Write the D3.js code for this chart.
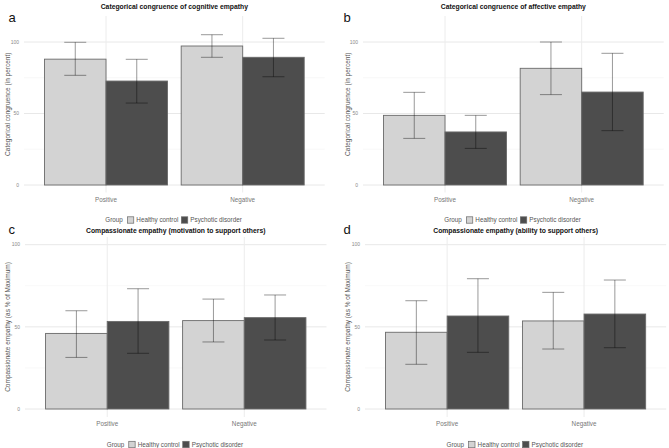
<!DOCTYPE html>
<html>
<head>
<meta charset="utf-8">
<script src="https://cdn.jsdelivr.net/npm/d3@7"></script>
<style>
  body { margin: 0; background: #fff; }
  svg { display: block; font-family: "Liberation Sans", Arial, sans-serif; }
</style>
</head>
<body>
<svg id="chart" width="669" height="448"></svg>
<script>
// data (means and error bar ends, in percent)
var categories = ["Positive", "Negative"];
var groups = ["Healthy control", "Psychotic disorder"];
var panelLetters = ["a", "b", "c", "d"];
var panelTitles = [
  "Categorical congruence of cognitive empathy",
  "Categorical congruence of affective empathy",
  "Compassionate empathy (motivation to support others)",
  "Compassionate empathy (ability to support others)"
];
var yTitles = [
  "Categorical congruence (in percent)",
  "Categorical congruence (in percent)",
  "Compassionate empathy (as % of Maximum)",
  "Compassionate empathy (as % of Maximum)"
];
var yTicks = [0, 50, 100];
var yMinor = [25, 75];

var healthyMean = [[88.0, 97.2], [48.7, 81.6], [46.0, 53.8], [46.7, 53.6]];
var healthyLow  = [[76.7, 89.3], [32.6, 63.2], [31.4, 40.8], [27.2, 36.5]];
var healthyHigh = [[99.8, 105.1], [64.8, 100.0], [59.8, 66.9], [65.9, 71.0]];
var psychMean   = [[72.7, 89.3], [37.1, 65.0], [53.3, 55.6], [56.6, 57.8]];
var psychLow    = [[57.3, 75.7], [25.6, 38.0], [33.9, 42.0], [34.5, 37.3]];
var psychHigh   = [[87.9, 102.6], [48.7, 92.1], [73.2, 69.4], [79.3, 78.5]];

var fills = {"Healthy control": "#d3d3d3", "Psychotic disorder": "#4d4d4d"};

// panel placement
var panels = [
  {left: 24,  right: 324.7, y0: 185, y100: 42,    top: 16,  bottom: 192.5, ox: 0,   oy: 0},
  {left: 363, right: 663.7, y0: 185, y100: 42,    top: 16,  bottom: 192.5, ox: 335, oy: 0},
  {left: 25,  right: 326.5, y0: 409, y100: 244.7, top: 237, bottom: 417,   ox: 0,   oy: 224},
  {left: 365, right: 666.2, y0: 409, y100: 244.7, top: 237, bottom: 417,   ox: 335, oy: 224}
];

var svg = d3.select("#chart");

panels.forEach(function(p, i) {

  var g = svg.append("g");

  var x = d3.scaleBand()
    .domain(categories)
    .range([p.left, p.right])
    .paddingInner(0.1)
    .paddingOuter(0.15);

  var xg = d3.scaleBand()
    .domain(groups)
    .range([0, x.bandwidth()]);

  var y = d3.scaleLinear()
    .domain([0, 100])
    .range([p.y0, p.y100]);

  // grid
  g.selectAll(".minor")
    .data(yMinor).enter()
    .append("line")
      .attr("x1", p.left).attr("x2", p.right)
      .attr("y1", function(d) { return y(d); })
      .attr("y2", function(d) { return y(d); })
      .attr("stroke", "#f3f3f3").attr("stroke-width", 0.6);

  g.selectAll(".major")
    .data(yTicks).enter()
    .append("line")
      .attr("x1", p.left).attr("x2", p.right)
      .attr("y1", function(d) { return y(d); })
      .attr("y2", function(d) { return y(d); })
      .attr("stroke", "#e8e8e8").attr("stroke-width", 1);

  g.selectAll(".vgrid")
    .data(categories).enter()
    .append("line")
      .attr("x1", function(d) { return x(d) + x.bandwidth() / 2; })
      .attr("x2", function(d) { return x(d) + x.bandwidth() / 2; })
      .attr("y1", p.top).attr("y2", p.bottom)
      .attr("stroke", "#ececec").attr("stroke-width", 1);

  // y tick labels
  g.selectAll(".ytick")
    .data(yTicks).enter()
    .append("text")
      .attr("x", p.left - 5)
      .attr("y", function(d) { return y(d); })
      .attr("dy", "0.35em")
      .attr("text-anchor", "end")
      .attr("font-size", 5)
      .attr("fill", "#8a8a8a")
      .text(function(d) { return d; });

  // rows for this panel
  var rows = [];
  categories.forEach(function(c, j) {
    rows.push({cat: c, group: groups[0], mean: healthyMean[i][j], lo: healthyLow[i][j], hi: healthyHigh[i][j]});
    rows.push({cat: c, group: groups[1], mean: psychMean[i][j], lo: psychLow[i][j], hi: psychHigh[i][j]});
  });

  g.selectAll(".bar")
    .data(rows).enter()
    .append("rect")
      .attr("x", function(d) { return x(d.cat) + xg(d.group); })
      .attr("y", function(d) { return y(d.mean); })
      .attr("width", xg.bandwidth())
      .attr("height", function(d) { return y(0) - y(d.mean); })
      .attr("fill", function(d) { return fills[d.group]; })
      .attr("stroke", "#6a6a6a")
      .attr("stroke-width", 0.9);

  // error bars
  var cap = 11;
  var eb = g.selectAll(".err")
    .data(rows).enter()
    .append("g")
      .attr("stroke", "#000")
      .attr("stroke-opacity", 0.45)
      .attr("stroke-width", 0.9)
      .attr("transform", function(d) {
        return "translate(" + (x(d.cat) + xg(d.group) + xg.bandwidth() / 2) + ",0)";
      });

  eb.append("line")
    .attr("x1", 0).attr("x2", 0)
    .attr("y1", function(d) { return y(d.lo); })
    .attr("y2", function(d) { return y(d.hi); });
  eb.append("line")
    .attr("x1", -cap).attr("x2", cap)
    .attr("y1", function(d) { return y(d.lo); })
    .attr("y2", function(d) { return y(d.lo); });
  eb.append("line")
    .attr("x1", -cap).attr("x2", cap)
    .attr("y1", function(d) { return y(d.hi); })
    .attr("y2", function(d) { return y(d.hi); });

  // x labels
  g.selectAll(".xlab")
    .data(categories).enter()
    .append("text")
      .attr("x", function(d) { return x(d) + x.bandwidth() / 2; })
      .attr("y", p.bottom + 9)
      .attr("text-anchor", "middle")
      .attr("font-size", 6.3)
      .attr("fill", "#777")
      .text(function(d) { return d; });

  var cx = (p.left + p.right) / 2;

  // title
  g.append("text")
    .attr("x", cx)
    .attr("y", p.oy + 8.5)
    .attr("text-anchor", "middle")
    .attr("font-size", 6.8)
    .attr("font-weight", "bold")
    .attr("fill", "#111")
    .text(panelTitles[i]);

  // panel letter
  g.append("text")
    .attr("x", p.ox + 8.5)
    .attr("y", p.oy + (i < 2 ? 22 : 9.5))
    .attr("font-size", 13)
    .attr("fill", "#111")
    .text(panelLetters[i]);

  // y title
  g.append("text")
    .attr("transform", "translate(" + (p.ox + (i % 2 ? 14.5 : 9.5)) + "," + ((p.top + p.bottom) / 2) + ") rotate(-90)")
    .attr("text-anchor", "middle")
    .attr("font-size", 6.5)
    .attr("fill", "#555")
    .text(yTitles[i]);

  // legend
  var lg = g.append("g")
    .attr("transform", "translate(" + (cx - 69) + "," + (p.bottom + 27.5) + ")");
  lg.append("text")
    .attr("x", 0).attr("y", 0).attr("dy", "0.35em")
    .attr("font-size", 6.3).attr("fill", "#555")
    .text("Group");
  var keyX = [22, 76];
  groups.forEach(function(gr, k) {
    lg.append("rect")
      .attr("x", keyX[k]).attr("y", -3.2)
      .attr("width", 6.4).attr("height", 6.4)
      .attr("fill", fills[gr])
      .attr("stroke", "#6a6a6a").attr("stroke-width", 0.7);
    lg.append("text")
      .attr("x", keyX[k] + 9).attr("y", 0).attr("dy", "0.35em")
      .attr("font-size", 6.3).attr("fill", "#555")
      .text(gr);
  });
});
</script>
</body>
</html>
